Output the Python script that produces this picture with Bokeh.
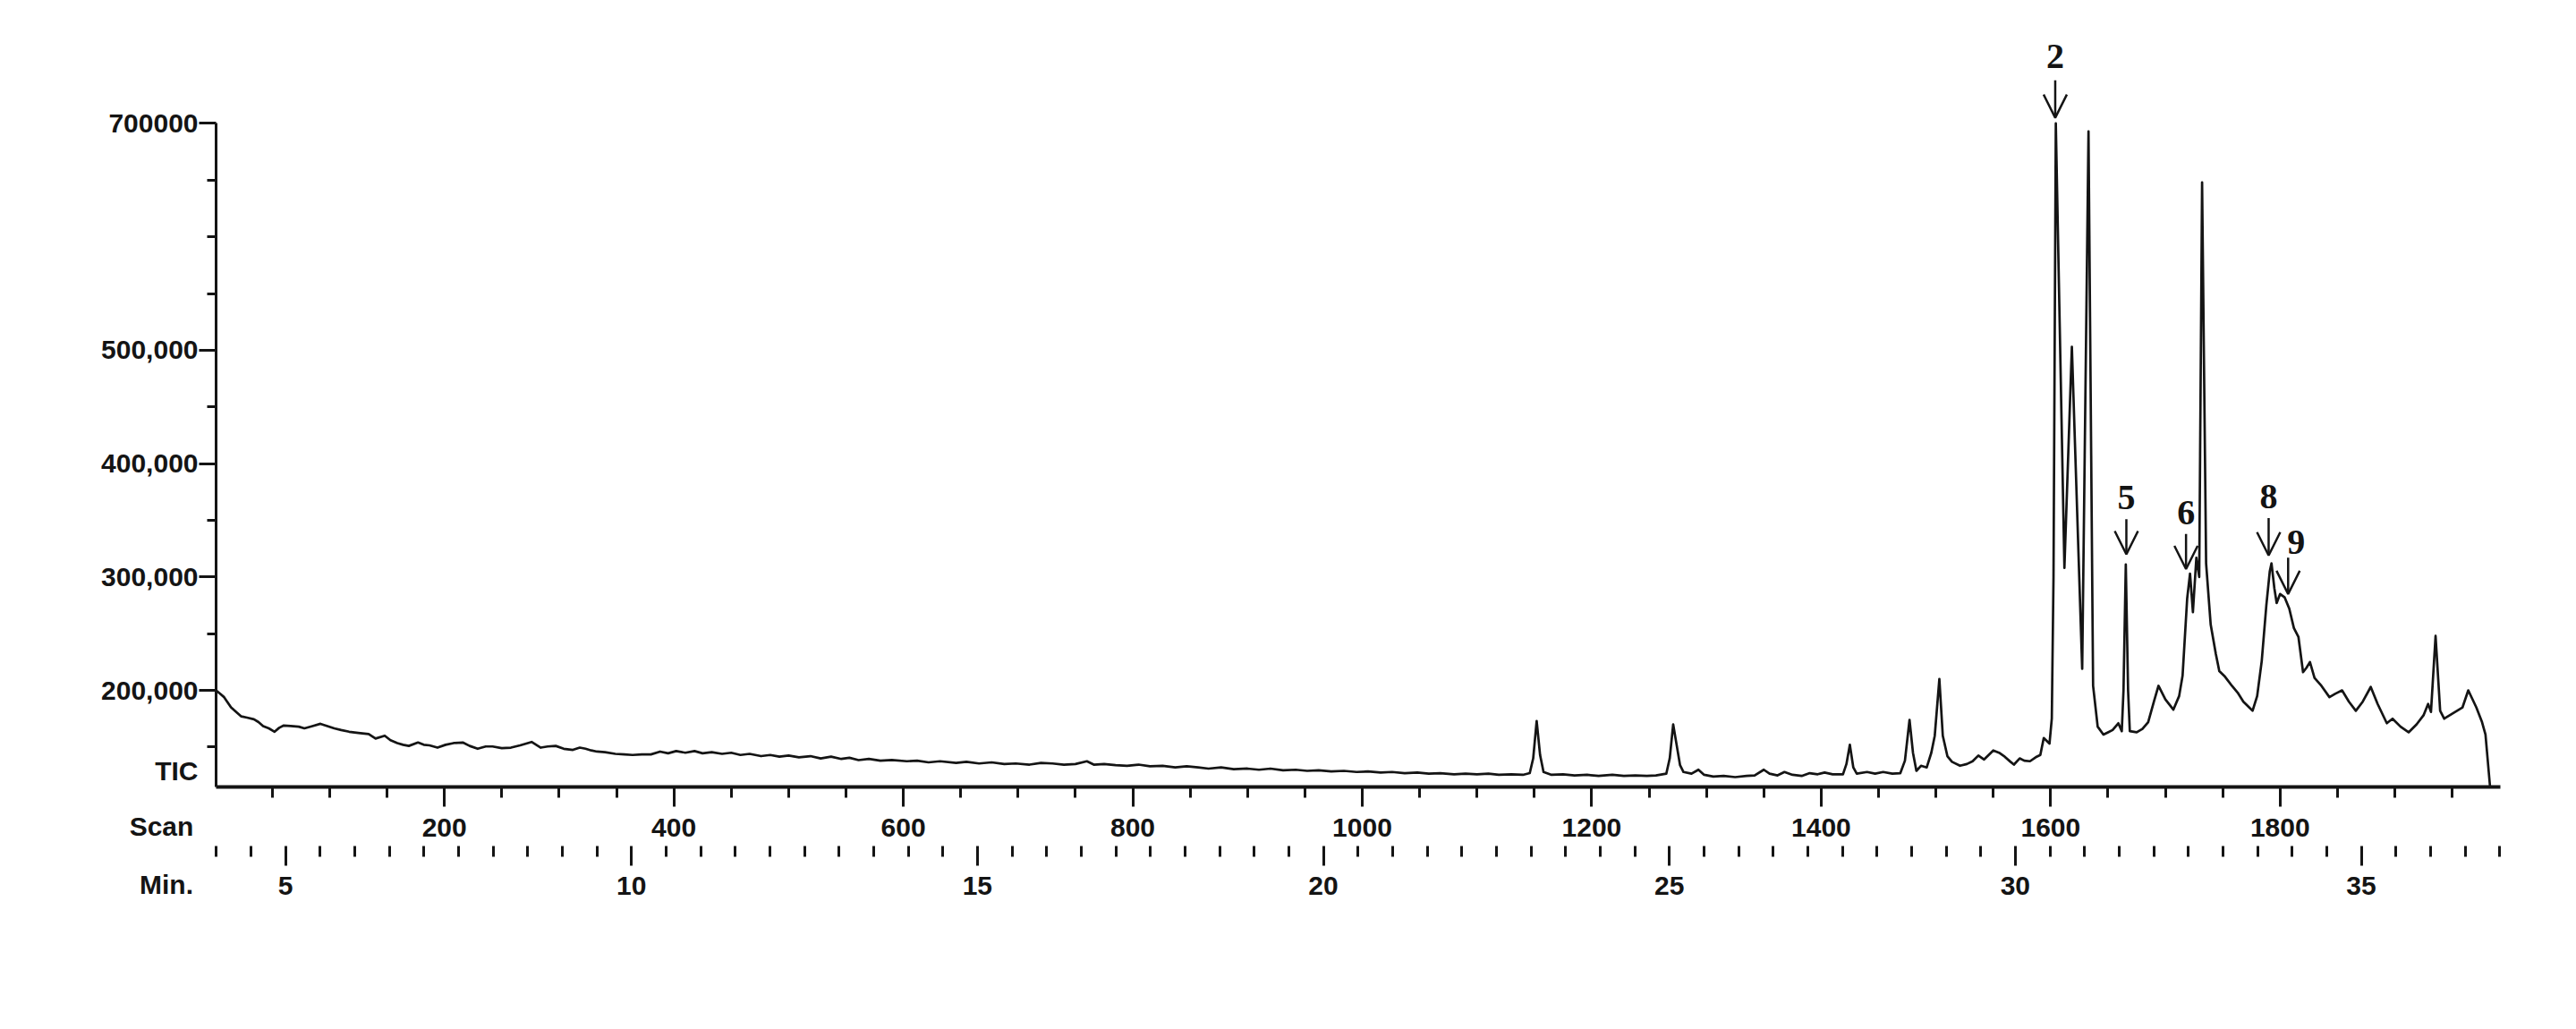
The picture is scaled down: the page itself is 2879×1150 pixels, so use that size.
from bokeh.plotting import figure
from bokeh.layouts import row
from bokeh.models import (Range1d, LinearAxis, FixedTicker, Arrow, OpenHead,
                          ColumnDataSource)
from bokeh.core.properties import value
from bokeh.embed import file_html
from bokeh.resources import INLINE

# ---------------- data ----------------
scan = [1, 4, 8, 14, 19, 23, 28, 34, 38, 42, 47, 52, 56, 60, 66, 73, 78, 85, 92, 98,
        104, 110, 117, 125, 134, 140, 148, 153, 159, 164, 169, 177, 182, 187, 194, 201,
        208, 216, 222, 229, 236, 242, 250, 258, 266, 276, 284, 290, 297, 304, 312, 318,
        323, 328, 333, 340, 349, 357, 364, 372, 380, 388, 395,
        402, 410, 418, 425, 433, 442, 450, 458, 466, 476, 484, 492, 500, 509, 519, 528,
        537, 546, 553, 561, 570, 580, 590, 603, 612, 622, 632, 646, 655, 666, 677, 688,
        698, 710, 720, 730, 740, 750, 760, 766, 775, 785, 795, 805, 815, 826, 837, 847,
        857, 866, 877, 888, 900, 910, 920, 931, 942, 952, 962, 973, 984, 995, 1005, 1016,
        1026, 1037, 1048, 1058, 1068, 1080, 1090, 1100, 1110, 1119, 1130, 1140, 1146,
        1149, 1152, 1155, 1158, 1165, 1175, 1185, 1196, 1206, 1218, 1228, 1238, 1248,
        1256, 1265, 1268, 1271, 1274, 1277, 1280, 1287, 1293, 1298, 1306, 1315, 1325,
        1335, 1342, 1350, 1355, 1362, 1368, 1375, 1383, 1390, 1397, 1403, 1410, 1419,
        1422, 1425, 1428, 1431, 1440, 1447, 1454, 1462, 1469, 1473, 1477, 1480, 1483,
        1487, 1492, 1496, 1499, 1503, 1506, 1510, 1514, 1521, 1527, 1532, 1537, 1542,
        1546, 1550, 1555, 1560, 1565, 1568, 1573, 1577, 1582, 1587, 1591, 1594, 1597,
        1599, 1601, 1602.5, 1604.5, 1612, 1618.5, 1627.5, 1633, 1637, 1641, 1646, 1650,
        1654, 1659, 1662, 1663.5, 1665.5, 1667.5, 1669, 1675, 1680, 1685, 1690, 1694,
        1700, 1707, 1712, 1715, 1719, 1721.5, 1724, 1727, 1729.5, 1732, 1735.5, 1739.5,
        1744, 1747, 1752, 1758, 1763, 1768, 1772, 1776, 1780, 1784, 1788, 1791, 1792.5,
        1795, 1797, 1800, 1804, 1808, 1812, 1816, 1820, 1823, 1826, 1830, 1836, 1843,
        1848, 1854, 1860, 1866, 1872, 1879, 1885, 1893, 1898, 1905, 1912, 1919, 1925,
        1929, 1931.5, 1935.5, 1939.5, 1943, 1951, 1959, 1964, 1971, 1976, 1979, 1983, 1990]

tic = [200000, 197500, 194000, 185000, 180500, 177000, 176000, 174500, 172000, 168500,
       166500, 163500, 167000, 169000, 168500, 168000, 166500, 168500, 170500, 168500,
       166500, 165000, 163500, 162500, 161500, 157500, 160000, 156000, 153500, 152000,
       151000, 154000, 152000, 151500, 149500, 152000, 153500, 154000, 151000, 148500,
       150500, 150500, 149000, 149500, 151500, 154500, 149500, 150500, 151000, 148500,
       147500, 149500, 148500, 147000, 146000, 145500, 144000, 143500, 143000, 143500,
       143500, 146000, 144500,
       146500, 145000, 146500, 144500, 145500, 144000, 145000, 143000, 144000, 142000,
       143000, 141500, 142500, 141000, 142000, 140000, 141500, 139500, 140500, 138500,
       139500, 138000, 138500, 137500, 138000, 136500, 137500, 136000, 137000, 135500,
       136500, 135000, 135500, 134500, 136000, 135500, 134500, 135000, 137500, 134500,
       135000, 134000, 133500, 134500, 133000, 133500, 132000, 133000, 132000, 131000,
       132000, 130500, 131000, 130000, 131000, 129500, 130000, 129000, 129500, 128500,
       129000, 128000, 128500, 127500, 128000, 127000, 127500, 126500, 127000, 126000,
       126500, 126000, 126500, 125500, 126000, 125500, 127000,
       140000, 173000, 143000, 128000, 125500, 126000, 125000, 125500, 124500, 125500,
       124500, 125000, 124500,
       125000, 126500, 140000, 170000, 152000, 134000, 128000, 126500, 130000, 125500,
       124000, 124500, 123500, 124500, 125000, 130000, 126500, 125000, 128000, 125500,
       124500, 127000, 126000, 127500, 126000, 126000,
       135000, 152000, 132000, 126500, 128000, 126500, 128000, 126500, 127000, 138000,
       174000, 145000, 129000, 133500, 132000, 145000, 160000, 210000, 160000, 142000,
       137000, 133500, 135000, 137500, 142500, 139000, 143000, 147000, 145000, 141500,
       137000, 134500, 140000, 138000, 137500, 141000, 143000, 158000, 155000,
       153000, 175000, 300000, 700000, 308000, 503000, 219000, 693000, 204000, 168000,
       161000, 163000, 165000, 171000, 164000, 200000, 311000, 200000, 164000, 163000,
       166000, 172000, 190000, 204000, 192000, 183000, 195000, 213000, 281000, 303000,
       269000, 317000, 300000, 648000, 312000, 258000, 232000, 217000, 212000, 204000,
       198000, 190000, 186000, 182000, 195000, 226000, 275000, 305000, 312000, 290000,
       277000, 285000, 282000, 272000, 255000, 247000, 216000, 220000, 225000, 211000,
       204000, 194000, 197000, 200000, 190000, 182000, 190000, 203000, 188000, 171000,
       175000, 168000, 163000, 170000, 178000, 188000, 181000, 248000, 182000, 175000,
       180000, 185000, 200000, 185000, 172000, 161000, 114800, 114800]

# peak annotations
peak_labels = ["2", "5", "6", "8", "9"]
peak_label_scan = [1604, 1666, 1718, 1790, 1814]
peak_label_tic = [759000, 370000, 357000, 371000, 331000]
arrow_scan = [1604, 1666, 1718, 1790, 1807]
arrow_top = [738000, 351000, 338000, 352000, 317000]
arrow_tip = [705000, 320000, 307000, 319000, 285000]

# axis ticks / labels
y_major = [200000, 300000, 400000, 500000, 700000]
y_major_text = ["200,000", "300,000", "400,000", "500,000", "700000"]
y_minor = [150000, 250000, 350000, 450000, 550000, 600000, 650000]
tic_label_value = 129000
scan_major = [200, 400, 600, 800, 1000, 1200, 1400, 1600, 1800]
scan_minor = [50, 100, 150, 250, 300, 350, 450, 500, 550, 650, 700, 750, 850, 900, 950,
              1050, 1100, 1150, 1250, 1300, 1350, 1450, 1500, 1550, 1650, 1700, 1750,
              1850, 1900, 1950]
min_major = [5, 10, 15, 20, 25, 30, 35]
min_minor = [4.0, 4.5, 5.5, 6.0, 6.5, 7.0, 7.5, 8.0, 8.5, 9.0, 9.5, 10.5, 11.0, 11.5,
             12.0, 12.5, 13.0, 13.5, 14.0, 14.5, 15.5, 16.0, 16.5, 17.0, 17.5, 18.0,
             18.5, 19.0, 19.5, 20.5, 21.0, 21.5, 22.0, 22.5, 23.0, 23.5, 24.0, 24.5,
             25.5, 26.0, 26.5, 27.0, 27.5, 28.0, 28.5, 29.0, 29.5, 30.5, 31.0, 31.5,
             32.0, 32.5, 33.0, 33.5, 34.0, 34.5, 35.5, 36.0, 36.5, 37.0]
scans_per_min = 60.31
scan_offset = 240.1          # minutes = (scan + scan_offset) / scans_per_min
row_names = ["Scan", "Min."]

x_start, x_end = 1, 1992
y_start, y_end = 114800, 792700

# ---------------- layout constants ----------------
H = 1100
LW = 222                 # left label strip
FT, FH = 20, 859         # frame top / height
FB = H - FT - FH
ML, FW, MR = 19, 2553, 68
W2 = ML + FW + MR

FONT = "Liberation Sans"
INK = "#141414"
SCAN_STANDOFF, MIN_STANDOFF = 13, 12


def style_bottom_axis(ax, standoff, spacer, tick_out=22):
    ax.major_tick_in = 0
    ax.major_tick_out = tick_out
    ax.minor_tick_in = 0
    ax.minor_tick_out = min(12, tick_out)
    ax.major_tick_line_width = 3
    ax.minor_tick_line_width = 3
    ax.major_tick_line_color = INK
    ax.minor_tick_line_color = INK
    ax.major_label_standoff = standoff
    ax.major_label_text_font = FONT
    ax.major_label_text_font_style = "bold"
    ax.major_label_text_font_size = "30px"
    ax.major_label_text_color = INK
    if spacer:
        ax.axis_label = "\u00a0"
        ax.axis_label_text_font_size = "4px"
        ax.axis_label_standoff = 0


# ---------------- main figure ----------------
p = figure(width=W2, height=H, output_backend="svg", toolbar_location=None,
           x_range=Range1d(x_start, x_end), y_range=Range1d(y_start, y_end),
           min_border_left=ML, min_border_right=MR, min_border_top=FT,
           min_border_bottom=FB, x_axis_type=None, y_axis_type=None)
p.outline_line_color = None
p.grid.visible = False
p.background_fill_color = "white"
p.border_fill_color = "white"

# y axis (its labels are drawn in the left strip)
yax = LinearAxis(ticker=FixedTicker(ticks=y_major, minor_ticks=y_minor),
                 bounds=(y_start, 700000))
yax.major_label_overrides = {v: "" for v in y_major}
yax.major_label_text_font_size = "0px"
yax.major_label_standoff = 0
yax.axis_line_width = 3
yax.axis_line_color = INK
yax.major_tick_in = 0
yax.major_tick_out = 19
yax.minor_tick_in = 0
yax.minor_tick_out = 10
yax.major_tick_line_width = 3
yax.minor_tick_line_width = 3
yax.major_tick_line_color = INK
yax.minor_tick_line_color = INK
p.add_layout(yax, "left")

# scan axis
sax = LinearAxis(ticker=FixedTicker(ticks=scan_major, minor_ticks=scan_minor))
sax.axis_line_width = 4
sax.axis_line_color = INK
style_bottom_axis(sax, SCAN_STANDOFF, True)
p.add_layout(sax, "below")

# minutes axis
p.extra_x_ranges = {"min": Range1d((x_start + scan_offset) / scans_per_min,
                                   (x_end + scan_offset) / scans_per_min)}
max_ = LinearAxis(x_range_name="min",
                  ticker=FixedTicker(ticks=min_major, minor_ticks=min_minor))
max_.axis_line_color = None
style_bottom_axis(max_, MIN_STANDOFF, False)
p.add_layout(max_, "below")

# chromatogram trace
p.line(scan, tic, line_color=INK, line_width=2.7, line_join="round")

# arrows and peak numbers
asrc = ColumnDataSource(dict(x=arrow_scan, y0=arrow_top, y1=arrow_tip))
p.add_layout(Arrow(end=OpenHead(size=26, line_width=2.5, line_color=INK),
                   x_start="x", y_start="y0", x_end="x", y_end="y1",
                   line_width=2.5, line_color=INK, source=asrc))
lsrc = ColumnDataSource(dict(x=peak_label_scan, y=peak_label_tic, t=peak_labels))
p.text(x="x", y="y", text="t", source=lsrc, text_font=value("Liberation Serif"),
       text_font_size="40px", text_font_style="bold", text_align="center",
       text_baseline="middle", text_color=INK)

# ---------------- left label strip (frame aligned with the main frame) ----------------
lp = figure(width=LW, height=H, output_backend="svg", toolbar_location=None,
            x_range=Range1d(0, LW), y_range=Range1d(y_start, y_end),
            min_border_left=0, min_border_right=0, min_border_top=FT,
            min_border_bottom=FB, x_axis_type=None, y_axis_type=None)
lp.outline_line_color = None
lp.grid.visible = False
lp.background_fill_color = "white"
lp.border_fill_color = "white"

ytxt = ColumnDataSource(dict(x=[LW - 1] * (len(y_major) + 1),
                             y=y_major + [tic_label_value],
                             t=y_major_text + ["TIC"]))
lp.text(x="x", y="y", text="t", source=ytxt, text_font=value(FONT),
        text_font_style="bold", text_font_size="30px", text_align="right",
        text_baseline="middle", text_color=INK)

# "Scan" / "Min." row names, set on tick-less axes stacked like the main bottom axes
for name, centre, standoff, spacer, tout in [(row_names[0], 180, SCAN_STANDOFF, True, 14),
                                             (row_names[1], 185.5, MIN_STANDOFF, False, 9)]:
    ax = LinearAxis(ticker=FixedTicker(ticks=[centre], minor_ticks=[]))
    style_bottom_axis(ax, standoff, spacer, tout)
    ax.axis_line_color = None
    ax.major_tick_line_color = None
    ax.minor_tick_line_color = None
    ax.major_label_overrides = {centre: name}
    lp.add_layout(ax, "below")

layout = row(lp, p, spacing=0)
open("out.html", "w").write(file_html(layout, INLINE))
